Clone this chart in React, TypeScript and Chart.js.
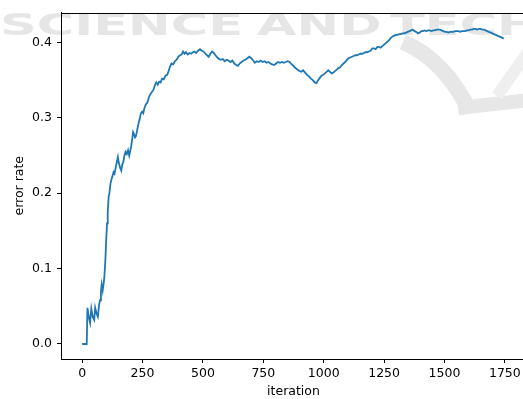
import React, { useEffect, useRef } from "react";
import { Chart, registerables } from "chart.js";

Chart.register(...registerables);

const iterations = [
  0, 19, 22, 28, 33, 38, 44, 50, 54, 60, 65, 70, 74, 78, 81, 85, 89, 92, 96, 99,
  103, 106, 110, 113, 117, 121, 125, 130, 134, 139, 144, 148, 152, 157, 162, 166, 171, 175, 180, 185,
  190, 195, 199, 203, 207, 211, 215, 219, 223, 228, 233, 238, 243, 248, 253, 258, 264, 270, 276, 282,
  288, 295, 301, 307, 313, 319, 325, 331, 338, 345, 352, 358, 364, 370, 377, 384, 391, 398, 405, 412,
  418, 424, 430, 437, 444, 451, 458, 465, 472, 480, 488, 495, 502, 510, 517, 524, 531, 538, 545, 552,
  560, 567, 574, 582, 590, 598, 606, 614, 622, 630, 638, 645, 652, 660, 668, 676, 684, 692, 700, 708,
  715, 723, 731, 739, 747, 755, 763, 771, 779, 787, 795, 803, 811, 819, 827, 835, 843, 851, 859, 867,
  875, 883, 891, 899, 907, 915, 923, 931, 939, 947, 955, 963, 970, 977, 984, 991, 998, 1005, 1012, 1019,
  1026, 1033, 1040, 1047, 1054, 1061, 1068, 1075, 1082, 1089, 1096, 1103, 1110, 1117, 1124, 1131, 1138, 1145, 1152, 1159,
  1166, 1173, 1180, 1187, 1194, 1201, 1208, 1215, 1222, 1229, 1236, 1243, 1250, 1257, 1264, 1271, 1278, 1285, 1292, 1299,
  1306, 1313, 1320, 1327, 1334, 1341, 1348, 1355, 1362, 1369, 1376, 1383, 1390, 1397, 1404, 1411, 1418, 1425, 1432, 1439,
  1446, 1453, 1460, 1467, 1474, 1481, 1488, 1495, 1502, 1509, 1516, 1523, 1530, 1537, 1544, 1551, 1558, 1565, 1572, 1579,
  1586, 1593, 1600, 1607, 1614, 1621, 1628, 1635, 1642, 1649, 1656, 1663, 1670, 1677, 1684, 1691, 1698, 1705, 1712, 1719,
  1726, 1733, 1740, 1745,
];

const errorRate = [
  0.0, 0.0, 0.048, 0.035, 0.028, 0.047, 0.036, 0.032, 0.048, 0.04, 0.036, 0.052, 0.058, 0.07, 0.079, 0.071, 0.08, 0.089, 0.11, 0.133,
  0.16, 0.175, 0.196, 0.2, 0.212, 0.218, 0.222, 0.228, 0.226, 0.234, 0.242, 0.248, 0.24, 0.234, 0.23, 0.238, 0.242, 0.25, 0.255, 0.252,
  0.257, 0.25, 0.256, 0.262, 0.271, 0.281, 0.278, 0.274, 0.276, 0.284, 0.292, 0.298, 0.306, 0.308, 0.306, 0.313, 0.318, 0.32, 0.327, 0.331,
  0.334, 0.337, 0.343, 0.347, 0.344, 0.348, 0.347, 0.352, 0.351, 0.356, 0.357, 0.362, 0.368, 0.372, 0.371, 0.375, 0.377, 0.381, 0.383, 0.384,
  0.388, 0.385, 0.387, 0.384, 0.386, 0.385, 0.387, 0.388, 0.386, 0.389, 0.391, 0.389, 0.388, 0.385, 0.383, 0.381, 0.385, 0.388, 0.386, 0.383,
  0.38, 0.378, 0.377, 0.378, 0.375, 0.377, 0.376, 0.374, 0.376, 0.372, 0.37, 0.369, 0.372, 0.374, 0.376, 0.377, 0.379, 0.381, 0.379, 0.376,
  0.373, 0.375, 0.374, 0.376, 0.374, 0.375, 0.373, 0.374, 0.372, 0.371, 0.37, 0.372, 0.374, 0.373, 0.374, 0.373, 0.374, 0.375, 0.374, 0.371,
  0.369, 0.366, 0.364, 0.362, 0.361, 0.363, 0.36, 0.357, 0.355, 0.352, 0.35, 0.347, 0.346, 0.35, 0.353, 0.356, 0.357, 0.359, 0.361, 0.363,
  0.361, 0.359, 0.36, 0.362, 0.364, 0.366, 0.367, 0.37, 0.372, 0.374, 0.377, 0.379, 0.38, 0.381, 0.382, 0.383, 0.383, 0.384, 0.385, 0.385,
  0.386, 0.387, 0.387, 0.388, 0.389, 0.392, 0.392, 0.391, 0.394, 0.394, 0.393, 0.395, 0.397, 0.399, 0.401, 0.403, 0.406, 0.408, 0.409, 0.41,
  0.41, 0.411, 0.411, 0.412, 0.412, 0.413, 0.414, 0.415, 0.416, 0.417, 0.415, 0.414, 0.412, 0.413, 0.415, 0.415, 0.416, 0.415, 0.416, 0.416,
  0.415, 0.416, 0.416, 0.417, 0.417, 0.417, 0.416, 0.415, 0.414, 0.414, 0.413, 0.414, 0.414, 0.414, 0.415, 0.415, 0.415, 0.414, 0.415, 0.415,
  0.415, 0.416, 0.416, 0.417, 0.417, 0.418, 0.418, 0.417, 0.418, 0.418, 0.417, 0.417, 0.416, 0.415, 0.414, 0.413, 0.412, 0.411, 0.41, 0.409,
  0.408, 0.407, 0.406, 0.405,
];

const xTicks = [0, 250, 500, 750, 1000, 1250, 1500, 1750];
const yTicks = [0.0, 0.1, 0.2, 0.3, 0.4];
const xLabel = "iteration";
const yLabel = "error rate";
const watermarkWords = ["SCIENCE", "AND", "TECHNOLOGY"];

const FONT = '"DejaVu Sans", sans-serif';

const watermarkPlugin = {
  id: "watermark",
  beforeDraw(chart: any) {
    const ctx = chart.ctx;
    ctx.save();
    // logo arms
    ctx.strokeStyle = "#e7e7e7";
    ctx.lineWidth = 16;
    ctx.lineCap = "butt";
    ctx.beginPath();
    ctx.moveTo(403, 42);
    ctx.quadraticCurveTo(445, 60, 470, 112);
    ctx.stroke();
    ctx.lineWidth = 14;
    ctx.beginPath();
    ctx.moveTo(458, 108);
    ctx.lineTo(530, 100);
    ctx.stroke();
    ctx.strokeStyle = "#efefef";
    ctx.lineWidth = 12;
    ctx.beginPath();
    ctx.moveTo(535, 42);
    ctx.lineTo(497, 96);
    ctx.stroke();
    // text
    ctx.fillStyle = "#e6e6e6";
    ctx.font = `bold 30px ${FONT}`;
    ctx.textBaseline = "alphabetic";
    ctx.textAlign = "left";
    const w = ctx.measureText(watermarkWords[0]).width;
    const sx = 243 / w;
    ctx.translate(0, 35);
    ctx.scale(sx, 1);
    ctx.fillText(watermarkWords[0], 0, 0);
    ctx.fillText(watermarkWords[1], 257 / sx, 0);
    ctx.fillText(watermarkWords[2], 390 / sx, 0);
    ctx.restore();
  },
  afterDraw(chart: any) {
    const { ctx, chartArea } = chart;
    ctx.save();
    ctx.strokeStyle = "#000";
    ctx.lineWidth = 1;
    ctx.beginPath();
    ctx.moveTo(chartArea.left, Math.round(chartArea.top) + 0.5);
    ctx.lineTo(chartArea.right, Math.round(chartArea.top) + 0.5);
    ctx.lineTo(chartArea.right, chartArea.bottom);
    ctx.stroke();
    ctx.restore();
  },
};

export default function App() {
  const ref = useRef<HTMLCanvasElement | null>(null);
  useEffect(() => {
    document.body.style.margin = "0";
    const canvas = ref.current!;
    const data = iterations.map((x, i) => ({ x, y: errorRate[i] }));
    const chart = new Chart(canvas, {
      type: "line",
      data: {
        datasets: [
          {
            data,
            borderColor: "#1f77b4",
            borderWidth: 1.8,
            pointRadius: 0,
            tension: 0,
            fill: false,
          },
        ],
      },
      options: {
        animation: false,
        responsive: false,
        devicePixelRatio: 1,
        layout: { padding: { top: 12, right: 14, left: 0, bottom: 0 } },
        plugins: { legend: { display: false }, tooltip: { enabled: false } },
        scales: {
          x: {
            type: "linear",
            min: -87.5,
            max: 1837.5,
            afterFit: (s: any) => {
              s.height = 40;
            },
            afterBuildTicks: (s: any) => {
              s.ticks = xTicks.map((v) => ({ value: v }));
            },
            grid: {
              drawOnChartArea: false,
              drawTicks: true,
              tickLength: 4,
              color: "#000",
              lineWidth: 1,
            },
            border: { display: true, color: "#000", width: 1 },
            ticks: {
              color: "#000",
              font: { family: FONT, size: 12.5 },
              padding: 3,
              maxRotation: 0,
              autoSkip: false,
              callback: (v: any) => String(v),
            },
            title: {
              display: true,
              text: xLabel,
              color: "#000",
              font: { family: FONT, size: 12.5, lineHeight: 1.2 },
              padding: { top: 0, bottom: 0 },
            },
          },
          y: {
            type: "linear",
            min: -0.0199,
            max: 0.4397,
            afterFit: (s: any) => {
              s.width = 61;
            },
            afterBuildTicks: (s: any) => {
              s.ticks = yTicks.map((v) => ({ value: v }));
            },
            grid: {
              drawOnChartArea: false,
              drawTicks: true,
              tickLength: 4,
              color: "#000",
              lineWidth: 1,
            },
            border: { display: true, color: "#000", width: 1 },
            ticks: {
              color: "#000",
              font: { family: FONT, size: 12.5 },
              padding: 5,
              autoSkip: false,
              callback: (v: any) => Number(v).toFixed(1),
            },
            title: {
              display: true,
              text: yLabel,
              color: "#000",
              font: { family: FONT, size: 12.5, lineHeight: 1.2 },
              padding: { top: 12, bottom: 0 },
            },
          },
        },
      },
      plugins: [watermarkPlugin],
    });
    return () => chart.destroy();
  }, []);
  return (
    <div
      style={{
        position: "fixed",
        left: 0,
        top: 0,
        width: 523,
        height: 399,
        overflow: "hidden",
        background: "#fff",
      }}
    >
      <canvas ref={ref} width={540} height={399} style={{ width: 540, height: 399, display: "block" }} />
    </div>
  );
}
